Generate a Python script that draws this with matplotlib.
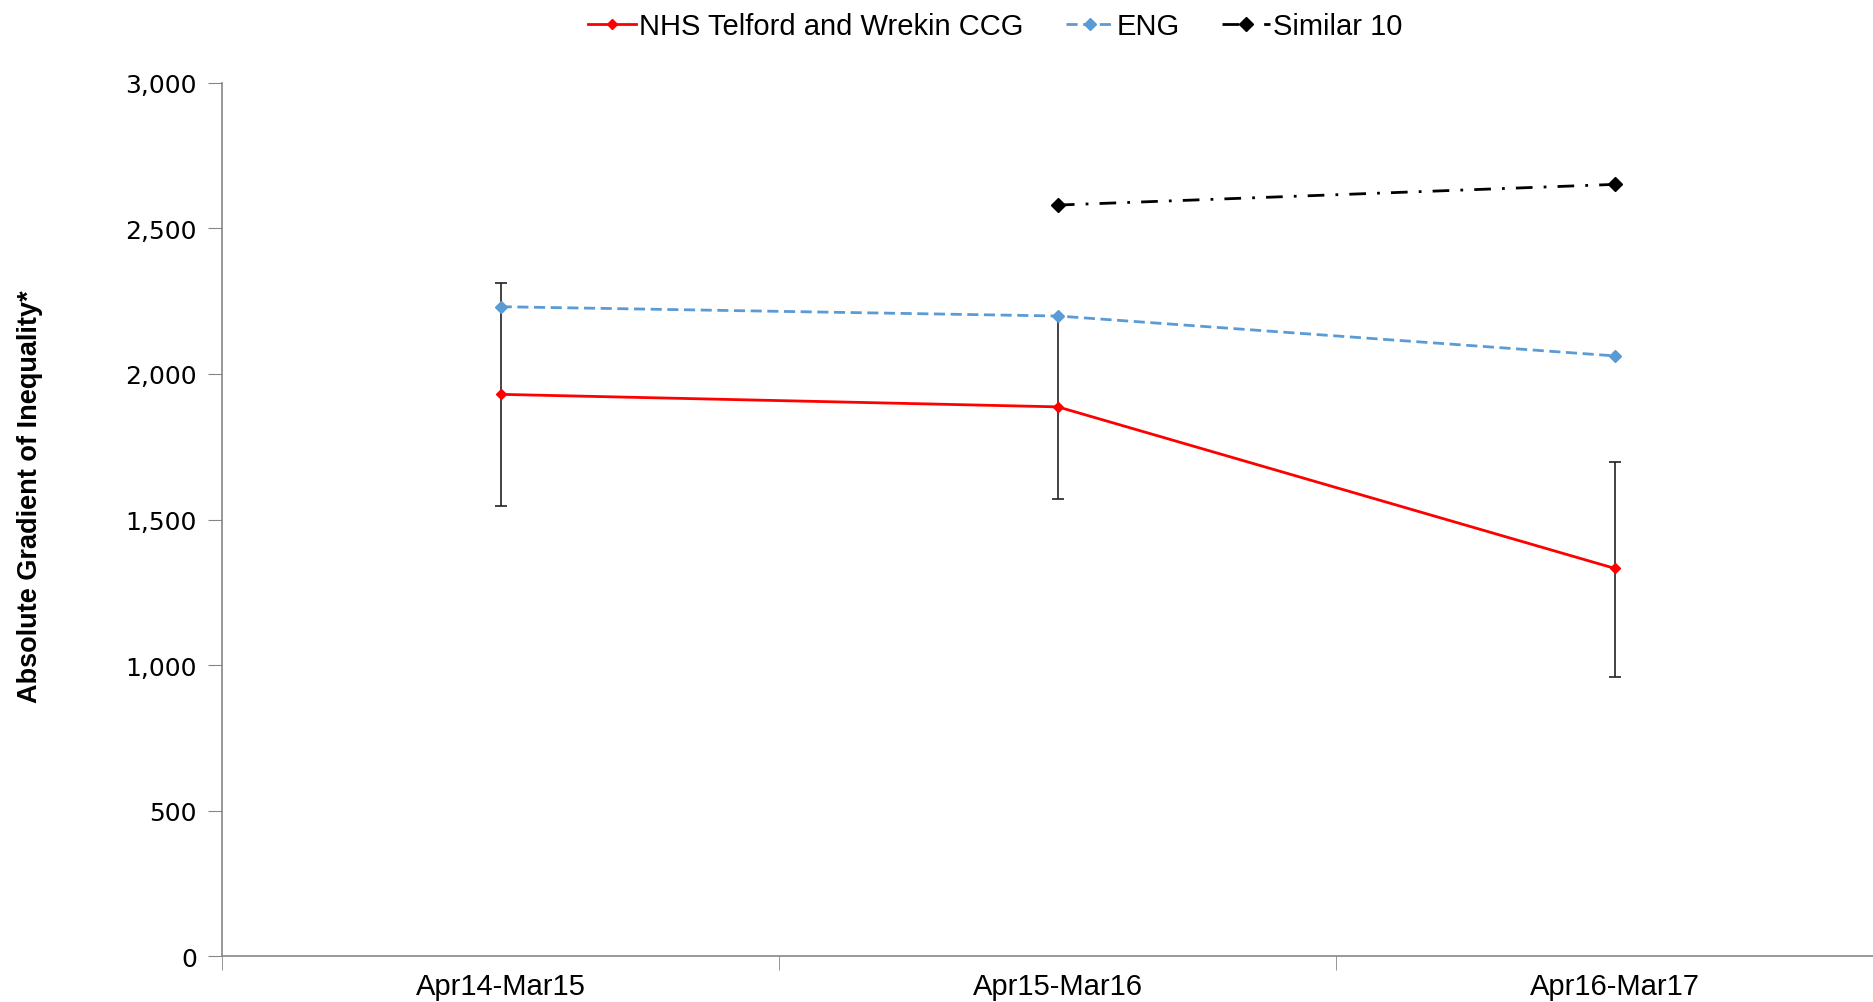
import matplotlib.pyplot as plt
import numpy as np

periods = ['Apr14-Mar15', 'Apr15-Mar16', 'Apr16-Mar17']
ccg = [1930, 1887, 1332]
ccg_upper = [2314, 2200, 1699]
ccg_lower = [1548, 1572, 961]
eng = [2231, 2199, 2062]
similar = [np.nan, 2580, 2651]

plt.rcParams['font.family'] = ['Liberation Sans', 'DejaVu Sans']

fig = plt.figure(figsize=(18.74, 10.03), dpi=100)
ax = fig.add_axes([0.1185, 0.0455, 0.892, 0.871])

x = np.arange(len(periods))
err = [np.array(ccg) - np.array(ccg_lower), np.array(ccg_upper) - np.array(ccg)]

# error bars on the CCG series
ax.errorbar(x, ccg, yerr=err, fmt='none', ecolor='#222222', elinewidth=1.2,
            capsize=4, capthick=1.2, zorder=2)
ax.plot(x, ccg, color='#ff0000', lw=2, marker='D', ms=5,
        label='NHS Telford and Wrekin CCG', zorder=3)
ax.plot(x, eng, color='#5b9bd5', lw=2, ls=(0, (4, 2)), marker='D', ms=6,
        label='ENG', zorder=3)
ax.plot(x, similar, color='black', lw=2, ls=(0, (6, 4, 1, 4)), marker='D', ms=7,
        label='Similar 10', zorder=3)

ax.set_xlim(-0.5, 2.5)
ax.set_ylim(0, 3000)
ax.set_yticks(range(0, 3001, 500))
ax.set_yticklabels([f'{v:,}' for v in range(0, 3001, 500)], fontsize=18,
                   family='DejaVu Sans')
ax.set_xticks(x)
ax.set_xticklabels(periods, fontsize=21)
ax.set_xticks([-0.5, 0.5, 1.5, 2.5], minor=True)
ax.tick_params(axis='x', which='major', length=0, pad=11)
ax.tick_params(axis='x', which='minor', length=10, color='#868686')
ax.tick_params(axis='y', length=10, color='#868686', pad=8)

for s in ['top', 'right']:
    ax.spines[s].set_visible(False)
for s in ['left', 'bottom']:
    ax.spines[s].set_color('#868686')
    ax.spines[s].set_linewidth(1.2)

ax.set_ylabel('Absolute Gradient of Inequality*', fontsize=19.5, fontweight='bold')
ax.yaxis.set_label_coords(-0.107, 0.527)

fig.legend(loc='upper center', bbox_to_anchor=(0.531, 1.013), ncol=3, frameon=False,
           fontsize=21, handlelength=1.65, handletextpad=0.1, columnspacing=1.45)

fig.savefig('out.png', dpi=100)
